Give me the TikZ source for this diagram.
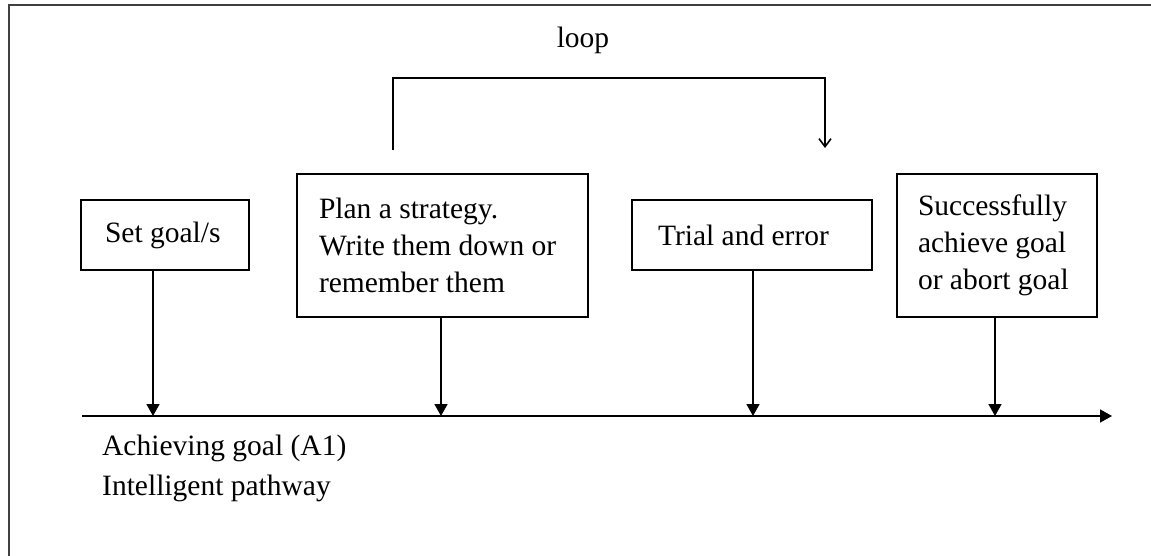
\documentclass[tikz,border=0pt]{standalone}
\usepackage{fontspec}
\setmainfont{Liberation Serif}
\usetikzlibrary{arrows.meta,positioning}
\tikzset{ar/.style={-{Triangle[length=12pt,width=13pt]},line width=1.6pt}}
\tikzset{lp/.style={-{Straight Barb[length=8pt,width=12pt]},line width=1.6pt}}
\tikzstyle{int}=[draw, line width=1.6pt, align=flush left, inner ysep=0pt, inner xsep=23pt]
\tikzstyle{lbl}=[inner sep=0pt]

\begin{document}
\begin{tikzpicture}[x=1pt,y=-1pt,font=\fontsize{29.5}{37}\selectfont,>=latex]
  \useasboundingbox (0,0) rectangle (1151,556);
  % outer frame, right and bottom edges lie off the page
  \draw[line width=2pt,black!75] (8.5,556) -- (8.5,5.5) -- (1151,5.5);

  \node [int, inner xsep=24pt, text width=120pt, minimum height=70pt] (sg) at (165,235) {Set goal/s};
  \node [int, inner xsep=22pt, text width=247pt, minimum height=143pt] (plan) at (442.5,245.5)
        {Plan a strategy.\\ Write them down or\\ remember them};
  \node [int, inner xsep=26pt, text width=188pt, minimum height=70pt] (trial) at (752,235) {Trial and error};
  \node [int, inner xsep=21pt, text width=158pt, minimum height=143pt] (succ) at (997,245.5)
        {Successfully\\ achieve goal\\ or abort goal};

  % time line
  \node [coordinate] (t0) at (82,416) {};
  \node [coordinate] (tend) [right=1030pt of t0] {};
  \draw[ar] (t0) -- (tend);
  \coordinate (f1) at (153,416);
  \coordinate (f2) at (441,416);
  \coordinate (f3) at (753,416);
  \coordinate (f4) at (995,416);
  \draw[ar] (sg.south -| f1) -- (f1);
  \draw[ar] (plan.south -| f2) -- (f2);
  \draw[ar] (trial.south -| f3) -- (f3);
  \draw[ar] (succ.south -| f4) -- (f4);

  \node [lbl, anchor=base west] (path1) at (102,455) {Achieving goal (A1)};
  \node [lbl, anchor=base west] (path2) at (102,495) {Intelligent pathway};

  % loop back over plan/trial
  \coordinate (lpa) at (393,150);
  \coordinate (lpb) at (825,148);
  \draw[lp] (lpa) -- ++(0,-72) -| (lpb);
  \node [lbl, anchor=base] (looptxt) at (583,48) {loop};
\end{tikzpicture}
\end{document}
